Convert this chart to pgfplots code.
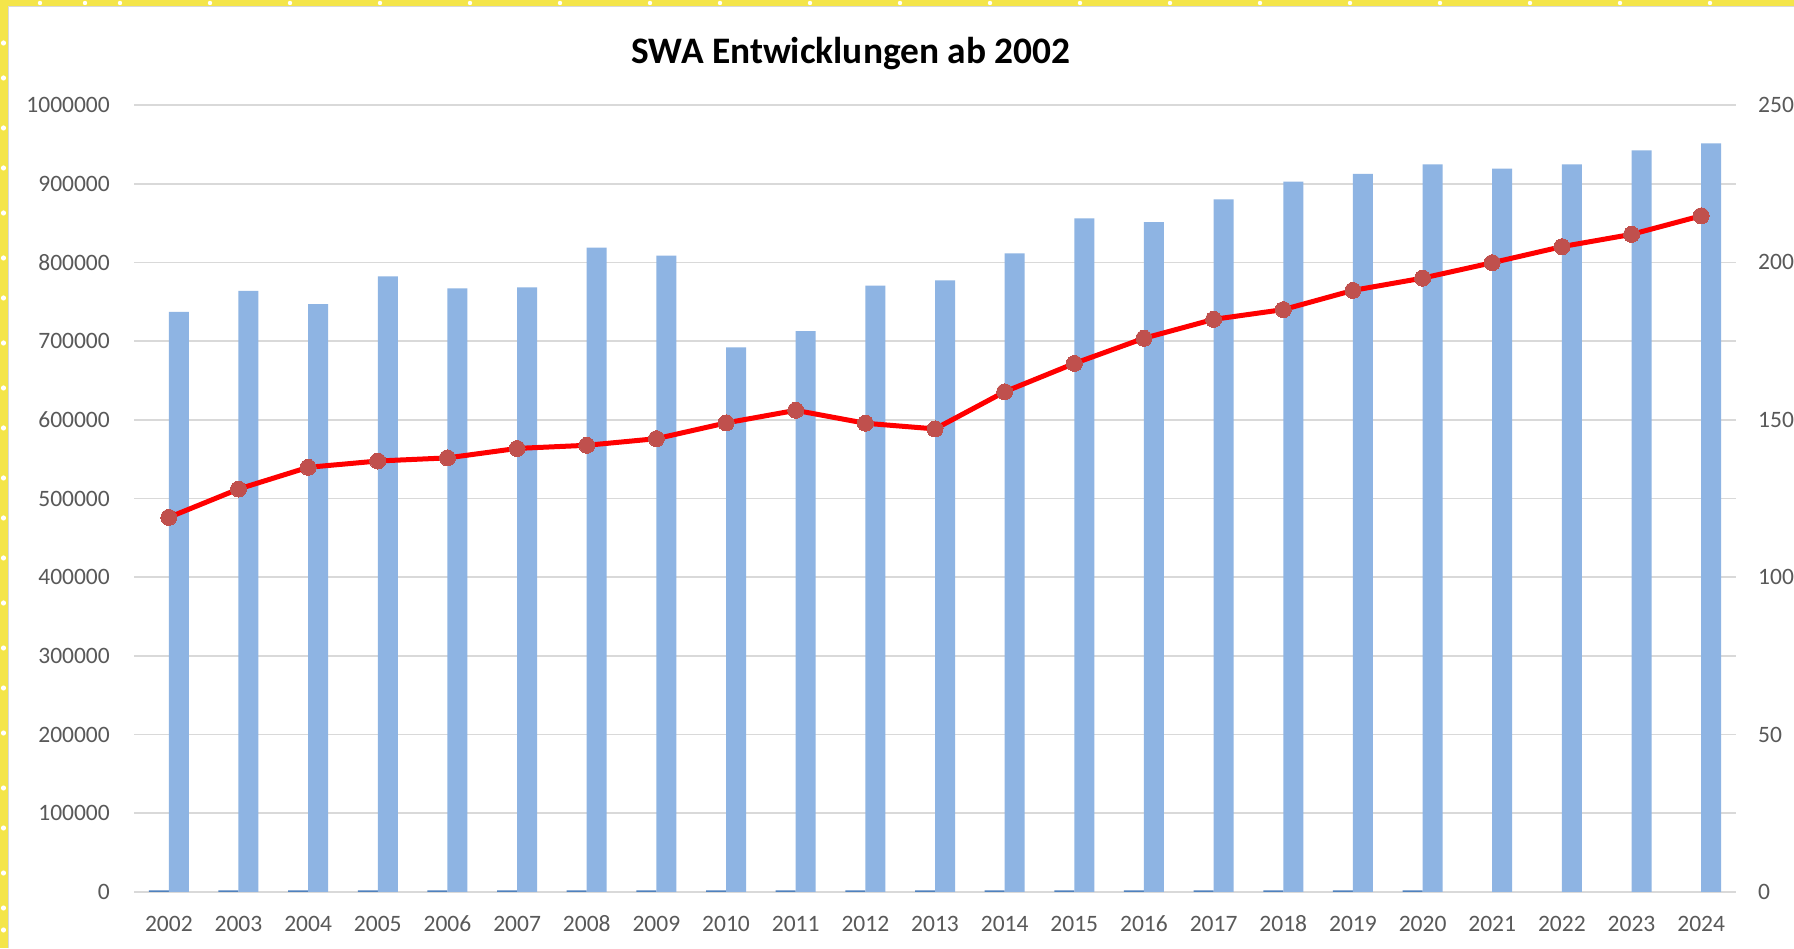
\documentclass[border=0pt]{standalone}
\usepackage{pgfplots}
\pgfplotsset{compat=1.18}
\usepackage{pgfplotstable}
\usepackage{fontspec}
\setmainfont{Carlito}
\definecolor{barlight}{HTML}{8EB4E3}
\definecolor{bardark}{HTML}{4F81BD}
\definecolor{gridc}{HTML}{D9D9D9}
\definecolor{tickc}{HTML}{595959}
\definecolor{markc}{HTML}{C0504D}
\definecolor{yellowc}{HTML}{F4E54A}
\pgfplotstableread{
x val
0 737000
1 763700
2 747100
3 782300
4 767100
5 768400
6 818700
7 808500
8 692100
9 712800
10 770400
11 777200
12 811600
13 856000
14 851300
15 880200
16 902600
17 912500
18 924600
19 919100
20 924600
21 942400
22 951300
}\lightdata
\pgfplotstableread{
x val
0 2000
1 2000
2 2000
3 2000
4 2000
5 2000
6 2000
7 2000
8 2000
9 2000
10 2000
11 2000
12 2000
13 2000
14 2000
15 2000
16 2000
17 2000
18 2000
}\darkdata
\pgfplotstableread{
x val
0 119.0
1 128.0
2 134.9
3 136.9
4 137.9
5 140.9
6 141.9
7 144.0
8 149.0
9 153.0
10 148.9
11 147.1
12 158.9
13 167.9
14 175.9
15 181.9
16 185.0
17 191.1
18 195.0
19 199.9
20 205.0
21 208.9
22 214.8
}\reddata
\begin{document}
\begin{tikzpicture}[x=1bp,y=1bp]
\useasboundingbox (0,0) rectangle (1794,948);
\fill[white] (0,0) rectangle (1794,948);
\fill[yellowc] (0,0) rectangle (8,948);
\fill[yellowc] (0,942) rectangle (1794,948);
\draw[gridc, line width=1bp] (8.5,0) -- (8.5,941.5) -- (1794,941.5);
\foreach \yy in {18,40,75,120,160,215,260,300,345,390,430,470,520,560,605,650,690,735,780,820,870,905}
  \fill[white] (3.5,\yy) circle (2.6);
\foreach \xx in {40,85,120,210,290,380,470,560,650,720,810,900,990,1080,1170,1260,1350,1440,1530,1620,1710}
  \fill[white] (\xx,945) circle (2.2);
\node[anchor=base, font=\fontsize{37.4bp}{44bp}\selectfont\bfseries, text=black, inner sep=0pt] at (851,884) {SWA Entwicklungen ab 2002};
\pgfplotsset{
  common/.style={
    at={(134bp,56bp)}, anchor=south west,
    scale only axis, width=1602bp, height=787bp,
    xmin=-0.5, xmax=22.5,
    tick style={draw=none},
    major tick length=0pt,
    scaled y ticks=false,
    /pgf/number format/assume math mode=true,
    /pgf/number format/fixed,
    /pgf/number format/precision=0,
    /pgf/number format/1000 sep={},
    tick label style={font=\fontsize{23.5bp}{28bp}\selectfont, text=tickc},
  }
}
\begin{axis}[common,
  ybar=0pt, bar width=20bp,
  ymin=0, ymax=1000000,
  ytick={0,100000,200000,300000,400000,500000,600000,700000,800000,900000,1000000},
  yticklabels={0,100000,200000,300000,400000,500000,600000,700000,800000,900000,1000000},
  yticklabel style={anchor=east, inner sep=0pt, xshift=-24bp},
  xtick={0,...,22},
  xticklabels={2002,2003,2004,2005,2006,2007,2008,2009,2010,2011,2012,2013,2014,2015,2016,2017,2018,2019,2020,2021,2022,2023,2024},
  xticklabel style={anchor=base, inner sep=0pt, yshift=-39.7bp},
  axis lines*=left,
  y axis line style={draw=none},
  x axis line style={draw=gridc, line width=2bp, -},
  ymajorgrids, grid style={gridc, line width=1.7bp},
]
\addplot[fill=bardark, draw=none] table[x=x, y=val] {\darkdata};
\addplot[fill=barlight, draw=none] table[x=x, y=val] {\lightdata};
\end{axis}
\begin{axis}[common,
  ymin=0, ymax=250,
  ytick={0,50,100,150,200,250},
  yticklabels={0,50,100,150,200,250},
  axis y line*=right,
  axis x line=none,
  y axis line style={draw=none},
  yticklabel style={anchor=west, inner sep=0pt, xshift=22bp},
]
\addplot[red, line width=5bp, mark=*, mark size=8bp, mark options={fill=markc, draw=markc, line width=0pt}] table[x=x, y=val] {\reddata};
\end{axis}
\end{tikzpicture}
\end{document}
